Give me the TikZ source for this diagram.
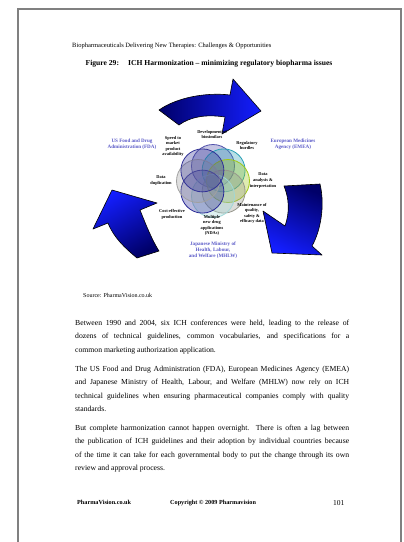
\documentclass[tikz,border=0pt]{standalone}
\usepackage{fontspec}
\setmainfont{Liberation Serif}
\definecolor{navyd}{RGB}{0,0,105}
\definecolor{blueb}{RGB}{20,30,255}
\definecolor{agency}{RGB}{90,90,200}
\definecolor{frame}{RGB}{128,128,128}
\definecolor{cA}{RGB}{80,80,170}
\definecolor{cB}{RGB}{40,160,180}
\definecolor{cC}{RGB}{160,200,20}
\definecolor{cD}{RGB}{150,150,140}
\definecolor{cE}{RGB}{160,215,215}
\definecolor{cF}{RGB}{40,40,150}
\definecolor{cG}{RGB}{160,160,160}
\definecolor{cH}{RGB}{50,50,150}
\tikzset{
  lbl/.style={font=\fontsize{4.4}{5.6}\selectfont\bfseries, align=center, inner sep=0},
  agencylbl/.style={font=\fontsize{5.1}{6}\selectfont\bfseries, align=center, inner sep=0, text=agency},
  blockarrow/.style={draw=black, line width=0.6pt, line join=round},
  venn/.style={line width=0.8pt, fill opacity=0.33},
  bodytext/.style={anchor=base west, inner sep=0}
}
\begin{document}
\begin{tikzpicture}[x=1pt,y=-1pt]
\useasboundingbox (0,0) rectangle (404,542);
\fill[white] (0,0) rectangle (404,542);
% page frame
\draw[frame, line width=2.5pt] (18,545) -- (18,9) -- (401,9) -- (401,545);

% header & title
\node[bodytext, font=\fontsize{6.5}{8}\selectfont] (hdr) at (72,47) {Biopharmaceuticals Delivering New Therapies: Challenges \& Opportunities};
\node[anchor=base, inner sep=0, font=\fontsize{7.6}{9}\selectfont\bfseries] (title) at (209,65.5) {Figure 29:\hspace{1.2em}ICH Harmonization – minimizing regulatory biopharma issues};

% block arrows
\path[blockarrow, left color=navyd, right color=blueb]
  (159,110) .. controls (176,98) and (205,92) .. (230,95) -- (233,79) -- (261,111) -- (222,134) -- (225,117)
  .. controls (205,114) and (190,117) .. (179,125) -- cycle;
\path[blockarrow, top color=navyd, bottom color=blueb, shading angle=-25]
  (284,186) -- (320,184) .. controls (325,205) and (321,230) .. (312,246) -- (322,255) -- (272,253) -- (263,211) -- (285,226)
  .. controls (290,212) and (289,198) .. (284,186) -- cycle;
\path[blockarrow, top color=blueb, bottom color=navyd, shading angle=30]
  (112,190) -- (157,203) -- (140,210) .. controls (146,225) and (152,240) .. (159,251) -- (137,258)
  .. controls (125,248) and (114,238) .. (108,223) -- (93,229) -- cycle;

% overlapping circles
\filldraw[venn, draw=cA, fill=cA] (213,166) circle (21.5);
\filldraw[venn, draw=cB, fill=cB] (223.6,170.4) circle (21.5);
\filldraw[venn, draw=cC, fill=cC] (228,181) circle (21.5);
\filldraw[venn, draw=cD, fill=cD] (223.6,191.6) circle (21.5);
\filldraw[venn, draw=cE, fill=cE] (213,196) circle (21.5);
\filldraw[venn, draw=cF, fill=cF] (202.4,191.6) circle (21.5);
\filldraw[venn, draw=cG, fill=cG] (198,181) circle (21.5);
\filldraw[venn, draw=cH, fill=cH] (202.4,170.4) circle (21.5);

% circle labels
\node[lbl] (dev) at (212,134.5) {Development of\\biosimilars};
\node[lbl] (speed) at (173,146.5) {Speed to\\market\\product\\availability};
\node[lbl] (reg) at (247,145.5) {Regulatory\\hurdles};
\node[lbl] (data) at (263,180.5) {Data\\analysis \&\\interpretation};
\node[lbl] (dup) at (161,180.5) {Data\\duplication};
\node[lbl] (maint) at (252,213.5) {Maintenance of\\quality,\\safety \&\\efficacy data};
\node[lbl] (cost) at (172,214.5) {Cost-effective\\production};
\node[lbl] (nda) at (212,225.5) {Multiple\\new drug\\applications\\(NDAs)};

% agencies
\node[agencylbl] (fda) at (132,144.5) {US Food and Drug\\Administration (FDA)};
\node[agencylbl] (emea) at (293,144.5) {European Medicines\\Agency (EMEA)};
\node[agencylbl] (mhlw) at (213,250.5) {Japanese Ministry of\\Health, Labour,\\and Welfare (MHLW)};

% source and body
\node[bodytext, font=\fontsize{6}{7}\selectfont] (src) at (83,297.5) {Source: PharmaVision.co.uk};
\node[bodytext] (p1) at (75,325.5) {\parbox[t]{274pt}{\fontsize{7.7}{13.45}\selectfont Between 1990 and 2004, six ICH conferences were held, leading to the release of\linebreak dozens of technical guidelines, common vocabularies, and specifications for a\linebreak common marketing authorization application.}};
\node[bodytext] (p2) at (75,371.5) {\parbox[t]{274pt}{\fontsize{7.7}{13.45}\selectfont The US Food and Drug Administration (FDA), European Medicines Agency (EMEA)\linebreak and Japanese Ministry of Health, Labour, and Welfare (MHLW) now rely on ICH\linebreak technical guidelines when ensuring pharmaceutical companies comply with quality\linebreak standards.}};
\node[bodytext] (p3) at (75,430.5) {\parbox[t]{274pt}{\fontsize{7.7}{13.45}\selectfont But complete harmonization cannot happen overnight. There is often a lag between\linebreak the publication of ICH guidelines and their adoption by individual countries because\linebreak of the time it can take for each governmental body to put the change through its own\linebreak review and approval process.}};

% footer
\node[bodytext, font=\fontsize{6.2}{7}\selectfont\bfseries] (foot1) at (77,504) {PharmaVision.co.uk};
\node[bodytext, font=\fontsize{6.2}{7}\selectfont\bfseries] (foot2) at (170,504) {Copyright © 2009 Pharmavision};
\node[bodytext, font=\fontsize{7.5}{9}\selectfont] (pageno) at (333,505) {101};
\end{tikzpicture}
\end{document}
